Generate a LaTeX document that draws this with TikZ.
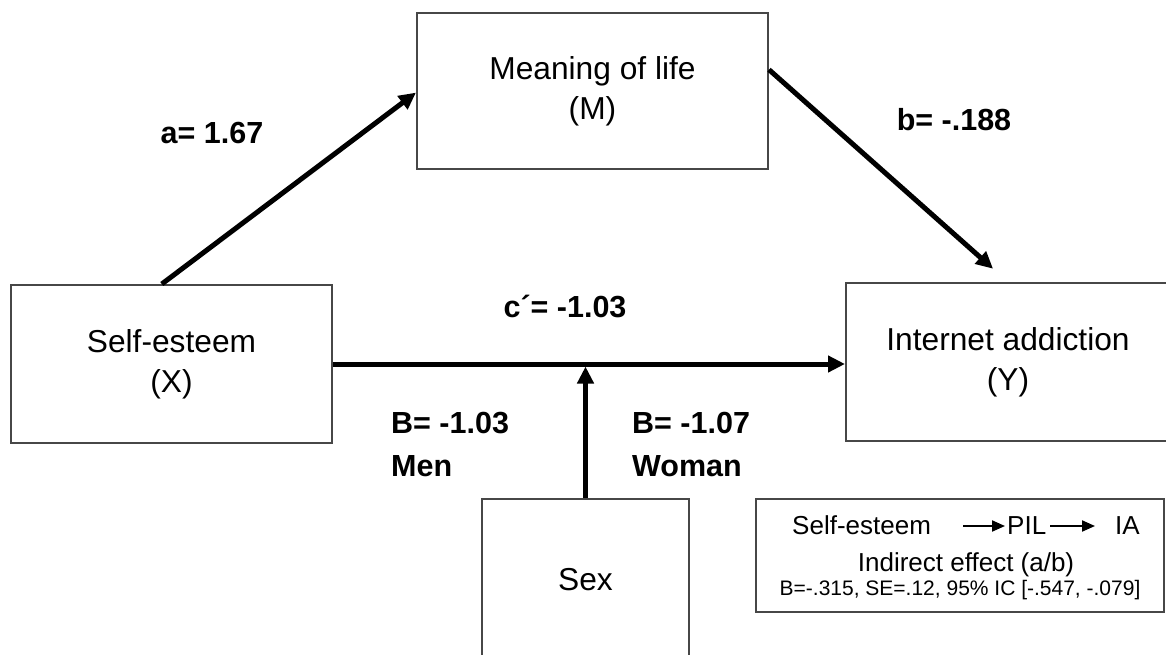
\documentclass[tikz,border=0pt]{standalone}
\usepackage{fontspec}
\setmainfont{Liberation Sans}
\usetikzlibrary{arrows.meta,calc}
\begin{document}
\begin{tikzpicture}[x=1pt,y=-1pt,
  box/.style={draw=black!72, line width=2pt, fill=white, inner sep=0pt, align=center, font=\fontsize{31.7}{40}\selectfont},
  lbl/.style={font=\bfseries\fontsize{30.5}{36}\selectfont, inner sep=0pt, anchor=base},
  arr/.style={line width=5pt, -{Triangle[length=17pt,width=16pt]}},
  legtxt/.style={inner sep=0pt, anchor=base, font=\fontsize{26}{30}\selectfont},
  legarr/.style={line width=2pt, -{Triangle[length=13pt,width=11pt]}}
]
\useasboundingbox (0,0) rectangle (1166,655);
% boxes
\node[box, minimum width=351pt, minimum height=156pt] (mol) at (592.5,91) {Meaning of life\\(M)};
\node[box, minimum width=321pt, minimum height=158pt] (se) at (171.5,364) {Self-esteem\\(X)};
\node[box, minimum width=324pt, minimum height=158pt] (ia) at (1008,362) {Internet addiction\\(Y)};
\node[box, minimum width=207pt, minimum height=162pt] (sex) at (585.5,580) {Sex};
% arrows
\coordinate (aS) at ($(se.north west)!0.47!(se.north east)$);
\coordinate (aE) at ($(mol.north west)!0.51!(mol.south west)$);
\draw[arr] (aS) -- (aE);
\coordinate (bS) at ($(mol.north east)!0.365!(mol.south east)$);
\draw[arr, shorten >=20pt] (bS) -- (ia.north);
\draw[arr] (se.east) -- (se.east -| ia.west);
\draw[arr, shorten >=2.5pt] (sex.north) -- (sex.north |- se.east);
% labels
\node[lbl] (la) at (212,144) {a= 1.67};
\node[lbl] (lb) at (954,131) {b= -.188};
\node[lbl] (lc) at (565,317) {c´= -1.03};
\node[lbl, anchor=base west] (lm1) at (391,433) {B= -1.03};
\node[lbl, anchor=base west] (lm2) at (391,476) {Men};
\node[lbl, anchor=base west] (lw1) at (632,433) {B= -1.07};
\node[lbl, anchor=base west] (lw2) at (632,476) {Woman};
% legend
\node[draw=black!72, line width=2pt, minimum width=408pt, minimum height=113pt, inner sep=0pt] (leg) at (960,555.5) {};
\node[legtxt, anchor=base west] (l1) at (792,534) {Self-esteem};
\node[legtxt, anchor=base west] (l2) at (1007,534) {PIL};
\node[legtxt, anchor=base west] (l3) at (1115,534) {IA};
\draw[legarr] ($(l1.base east)+(32,-8)$) -- ($(l2.base west)+(-2,-8)$);
\draw[legarr] ($(l2.base east)+(4,-8)$) -- ($(l3.base west)+(-20,-8)$);
\node[legtxt] (l4) at (966,571) {Indirect effect (a/b)};
\node[legtxt, font=\fontsize{21}{24}\selectfont] (l5) at (960,595) {B=-.315, SE=.12, 95\% IC [-.547, -.079]};
\end{tikzpicture}
\end{document}
